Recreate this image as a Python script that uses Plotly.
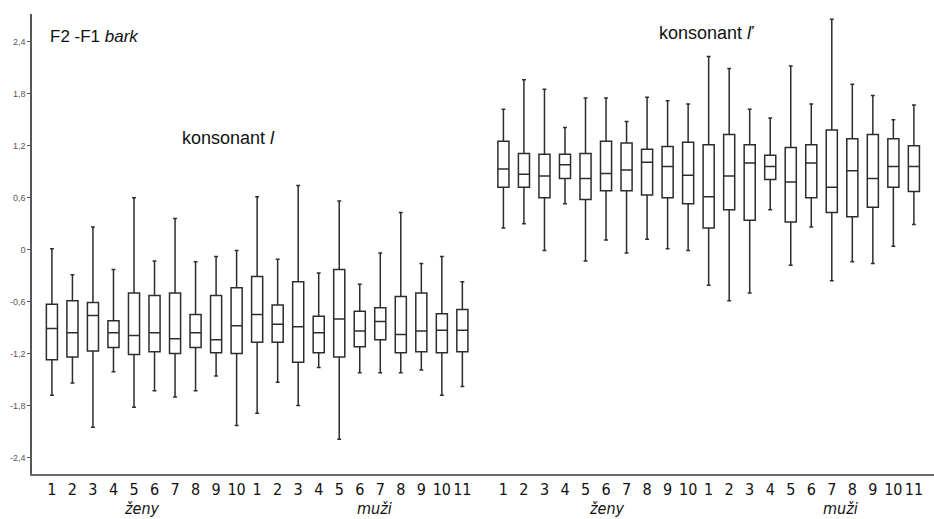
import plotly.graph_objects as go

# Speakers: 10 women (ženy) and 11 men (muži), for each consonant
women = [str(i) for i in range(1, 11)]
men = [str(i) for i in range(1, 12)]
speakers = women + men

# konsonant l  -- F2-F1 (bark): whisker ends, quartiles and median per speaker
l_upper = [0.01, -0.29, 0.26, -0.23, 0.60, -0.13, 0.36, -0.14, -0.08, -0.01,
           0.61, -0.11, 0.74, -0.27, 0.56, -0.40, -0.04, 0.43, -0.16, -0.08, -0.37]
l_q3 = [-0.63, -0.59, -0.61, -0.82, -0.50, -0.53, -0.50, -0.75, -0.53, -0.44,
        -0.31, -0.64, -0.37, -0.77, -0.23, -0.71, -0.67, -0.54, -0.50, -0.74, -0.69]
l_median = [-0.91, -0.96, -0.76, -0.96, -0.99, -0.96, -1.03, -0.96, -1.04, -0.88,
            -0.75, -0.86, -0.89, -0.96, -0.80, -0.94, -0.83, -0.98, -0.94, -0.93, -0.93]
l_q1 = [-1.27, -1.24, -1.17, -1.13, -1.21, -1.18, -1.20, -1.13, -1.19, -1.20,
        -1.07, -1.07, -1.30, -1.19, -1.24, -1.12, -1.04, -1.19, -1.18, -1.19, -1.18]
l_lower = [-1.68, -1.54, -2.05, -1.41, -1.82, -1.63, -1.70, -1.63, -1.46, -2.03,
           -1.89, -1.53, -1.80, -1.36, -2.19, -1.42, -1.42, -1.42, -1.39, -1.68, -1.58]

# konsonant ľ
lj_upper = [1.62, 1.96, 1.85, 1.41, 1.75, 1.75, 1.48, 1.76, 1.72, 1.68,
            2.23, 2.09, 1.62, 1.52, 2.12, 1.68, 2.66, 1.91, 1.78, 1.50, 1.67]
lj_q3 = [1.25, 1.11, 1.10, 1.10, 1.11, 1.25, 1.23, 1.16, 1.19, 1.24,
         1.21, 1.33, 1.21, 1.09, 1.18, 1.21, 1.38, 1.28, 1.33, 1.28, 1.20]
lj_median = [0.93, 0.87, 0.85, 0.98, 0.82, 0.88, 0.92, 1.01, 0.96, 0.86,
             0.61, 0.85, 1.00, 0.96, 0.78, 1.00, 0.72, 0.91, 0.82, 0.96, 0.96]
lj_q1 = [0.72, 0.72, 0.60, 0.82, 0.58, 0.68, 0.68, 0.63, 0.60, 0.53,
         0.25, 0.46, 0.34, 0.81, 0.32, 0.60, 0.43, 0.38, 0.49, 0.72, 0.67]
lj_lower = [0.25, 0.30, -0.01, 0.53, -0.13, 0.11, -0.04, 0.12, 0.01, -0.01,
            -0.41, -0.59, -0.50, 0.46, -0.18, 0.26, -0.36, -0.14, -0.16, 0.04, 0.29]

y_ticks = [-2.4, -1.8, -1.2, -0.6, 0, 0.6, 1.2, 1.8, 2.4]
y_ticktext = [("%g" % v).replace(".", ",") for v in y_ticks]

# slot positions: the two consonant blocks separated by one empty slot
n = len(speakers)
pos_l = list(range(n))
pos_lj = [n + 1 + i for i in range(n)]

LINE = "rgb(45,45,45)"
NARROW = "DejaVu Sans Condensed, Liberation Sans Narrow, Arial Narrow, Liberation Sans, sans-serif"

fig = go.Figure()
for pos, lo, q1, med, q3, up in [
    (pos_l, l_lower, l_q1, l_median, l_q3, l_upper),
    (pos_lj, lj_lower, lj_q1, lj_median, lj_q3, lj_upper),
]:
    fig.add_trace(go.Box(
        x=pos, lowerfence=lo, q1=q1, median=med, q3=q3, upperfence=up,
        width=0.54, whiskerwidth=0.35, boxpoints=False,
        fillcolor="white", line=dict(color=LINE, width=1.5),
        showlegend=False,
    ))

fig.update_layout(
    width=934, height=519,
    margin=dict(l=32, r=0, t=14, b=45),
    paper_bgcolor="white", plot_bgcolor="white",
    font=dict(family="Liberation Sans, Arial, sans-serif", color="#111"),
    xaxis=dict(
        range=[-0.97, 42.98], tickmode="array",
        tickvals=pos_l + pos_lj, ticktext=speakers + speakers,
        showgrid=False, zeroline=False, showline=True,
        linecolor="#6a6a6a", linewidth=2, ticks="", tickangle=0,
        tickfont=dict(family=NARROW, size=16, color="#111"),
    ),
    yaxis=dict(
        range=[-2.59, 2.72], tickmode="array",
        tickvals=y_ticks, ticktext=y_ticktext,
        showgrid=False, zeroline=False, showline=True,
        linecolor="#555", linewidth=1.5, ticks="outside", ticklen=3,
        tickcolor="#555", tickfont=dict(size=9, color="#555"),
    ),
)

annotations = [
    dict(x=-0.2, y=2.46, xref="x", yref="y", xanchor="left",
         text="F2 -F1 <i>bark</i>", font=dict(size=17)),
    dict(x=8.6, y=1.29, xref="x", yref="y",
         text="konsonant <i>l</i>", font=dict(size=18)),
    dict(x=31.9, y=2.5, xref="x", yref="y",
         text="konsonant <i>ľ</i>", font=dict(size=18)),
]
for xc, label in [(4.39, "ženy"), (15.74, "muži"), (27.05, "ženy"), (38.4, "muži")]:
    annotations.append(dict(x=xc, y=-0.076, xref="x", yref="paper", yanchor="middle",
                            text="<i>%s</i>" % label,
                            font=dict(size=16, family=NARROW)))
fig.update_layout(annotations=[dict(a, showarrow=False) for a in annotations])

fig.write_html("out.html")
